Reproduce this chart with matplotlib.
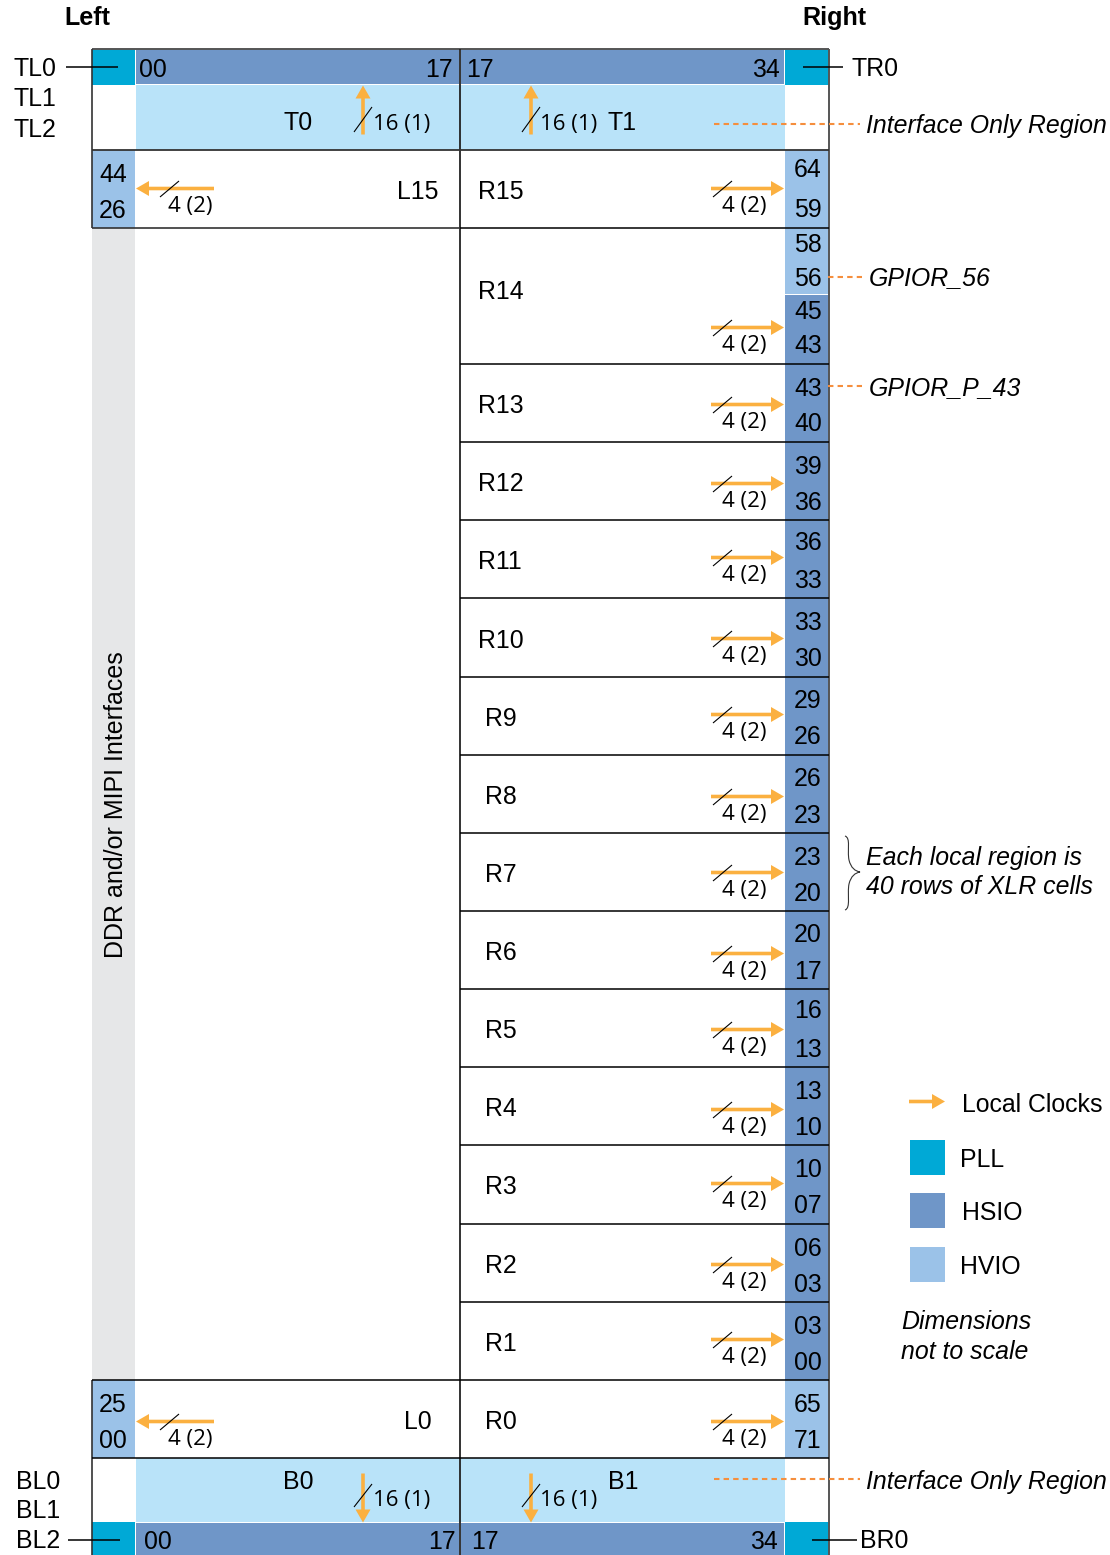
import matplotlib
matplotlib.use("Agg")
import matplotlib.pyplot as plt
from matplotlib.patches import Rectangle, PathPatch
from matplotlib.path import Path

# right side regions, top to bottom
right_regions = ["R15", "R14", "R13", "R12", "R11", "R10", "R9", "R8",
                 "R7", "R6", "R5", "R4", "R3", "R2", "R1", "R0"]
right_row_edges = [150, 228, 364, 442, 520, 598, 677, 755, 833, 911, 989,
                   1067, 1145, 1224, 1302, 1380, 1458]
right_arrow_y = [188, 327, 404, 483, 557, 638, 714, 796, 872, 953, 1029,
                 1109, 1183, 1264, 1339, 1421]
right_label_y = [190, 290, 404, 482, 560, 639, 717, 795, 873, 951, 1029,
                 1107, 1185, 1264, 1342, 1420]
bank_numbers = ["64", "59", "58", "56", "45", "43", "43", "40", "39", "36", "36", "33",
                "33", "30", "29", "26", "26", "23", "23", "20", "20", "17", "16", "13",
                "13", "10", "10", "07", "06", "03", "03", "00", "65", "71"]
bank_number_y = [168, 208, 243, 277, 310, 344, 387, 422, 465, 501, 541, 579,
                 621, 657, 699, 735, 777, 814, 856, 892, 933, 970, 1009, 1048,
                 1090, 1126, 1168, 1204, 1247, 1283, 1325, 1361, 1403, 1439]
legend_names = ["PLL", "HSIO", "HVIO"]

PLL = "#00a9d6"
HSIO = "#6f96c8"
HVIO = "#9bc2e8"
LIGHT = "#b9e3f9"
GREY = "#e6e7e8"
ORANGE = "#fbb040"
DASH = "#f58e3d"
SANS = "Liberation Sans"
OPEN = "Open Sans"

fig = plt.figure(figsize=(11.1, 15.55), dpi=100)
ax = fig.add_axes([0, 0, 1, 1])
ax.set_xlim(0, 1110)
ax.set_ylim(1555, 0)
ax.axis("off")


def box(x0, y0, x1, y1, color, edge="none", z=1):
    ax.add_patch(Rectangle((x0, y0), x1 - x0, y1 - y0, facecolor=color,
                           edgecolor=edge, linewidth=1, zorder=z))


def line(x0, y0, x1, y1, color="black", lw=1.1, z=3, ls="-"):
    ax.plot([x0, x1], [y0, y1], color=color, lw=lw, zorder=z, ls=ls,
            solid_capstyle="butt")


def label(x, y, s, size=17.9, ha="left", **kw):
    # y is the middle of the capitals
    ax.text(x, y + size * 0.5 + 0.4, s, fontsize=size, family=kw.pop("family", SANS),
            ha=ha, va="baseline", zorder=7, **kw)


def arrow(x0, y0, x1, y1):
    ax.arrow(x0, y0 + 0.5, x1 - x0, y1 - y0, width=3.6, head_width=15, head_length=13,
             length_includes_head=True, color=ORANGE, lw=0, zorder=4)


def slash(x0, y0, x1, y1):
    line(x0, y0, x1, y1, lw=0.8, z=6)


def dashed(x0, y, x1):
    ax.plot([x0, x1], [y, y], color=DASH, lw=1.5, dashes=(2.6, 2), zorder=4)


# fills
box(136, 85, 785, 150, LIGHT)
box(136, 1458, 785, 1522, LIGHT)
box(92, 49, 135, 85, PLL)
box(785, 49, 829, 85, PLL)
box(92, 1522, 135, 1555, PLL)
box(785, 1522, 829, 1555, PLL)
box(136, 49, 459, 84, HSIO)
box(461, 49, 784, 84, HSIO)
box(136, 1523, 459, 1555, HSIO)
box(461, 1523, 784, 1555, HSIO)
box(92, 150, 135, 228, HVIO)
box(92, 228, 135, 1380, GREY)
box(92, 1380, 135, 1458, HVIO)
box(785, 150, 829, 294, HVIO)
box(785, 295, 829, 1380, HSIO)
box(785, 1380, 829, 1458, HVIO)

# outline
line(92, 49, 829, 49, "#555555", 1.4)
line(92, 49, 92, 228, "#333333", 1.2)
line(92, 1380, 92, 1555, "#333333", 1.2)
line(829, 49, 829, 1555, "#555555", 1.4)
line(460, 49, 460, 1555, "#222222", 1.3)
line(92, 150, 829, 150, "#333333", 1.3)
line(92, 228, 460, 228, "#333333", 1.2)
line(92, 1380, 460, 1380)
line(92, 1458, 829, 1458)
for edge in right_row_edges[1:-1]:
    line(460, edge, 829, edge)

# right side rows
for name, ly, ay in zip(right_regions, right_label_y, right_arrow_y):
    x = 478.5 if len(name) == 3 else 485
    label(x, ly, name)
    arrow(711, ay, 784, ay)
    slash(713, ay + 9, 732, ay - 7)
    label(722.5, ay + 16, "4 (2)", size=16, family=OPEN)
for s, y in zip(bank_numbers, bank_number_y):
    label(808, y, s, ha="center")

# left side
label(113, 173, "44", ha="center")
label(113, 209, "26", ha="center")
label(113, 1403, "25", ha="center")
label(113, 1439, "00", ha="center")
label(397, 190, "L15")
label(404, 1420, "L0")
for ay in [188, 1421]:
    arrow(214, ay, 136, ay)
    slash(160, ay + 9, 179, ay - 7)
    label(168, ay + 16, "4 (2)", size=16, family=OPEN)
ax.text(116, 805, "DDR and/or MIPI Interfaces", rotation=90, fontsize=18,
        family=SANS, ha="center", va="center", zorder=7)

# top and bottom interface rows
for x, name, tx, numx in [(363, "T0", 283, 373), (531, "T1", 608, 540)]:
    arrow(x, 134, x, 85)
    slash(x - 9, 132, x + 9, 107)
    label(numx, 122, "16 (1)", size=16, family=OPEN)
    label(tx, 121, name)
for x, name, tx, numx in [(363, "B0", 283, 373), (531, "B1", 608, 540)]:
    arrow(x, 1473, x, 1522)
    slash(x - 9, 1507, x + 9, 1484)
    label(numx, 1498, "16 (1)", size=16, family=OPEN)
    label(tx, 1480, name)
for x, s in [(139, "00"), (425, "17"), (466, "17"), (752, "34")]:
    label(x, 68, s)
for x, s in [(144, "00"), (428, "17"), (471, "17"), (750, "34")]:
    label(x, 1540, s)

# corner labels
label(87, 16, "Left", ha="center", weight="bold", size=18.1)
label(834, 16, "Right", ha="center", weight="bold", size=18.1)
for s, y in [("TL0", 67), ("TL1", 97), ("TL2", 128)]:
    label(13.5, y, s)
for s, y in [("BL0", 1480), ("BL1", 1509), ("BL2", 1539)]:
    label(16.5, y, s)
label(852, 67, "TR0")
label(860, 1539, "BR0")
line(66, 67, 118, 67)
line(803, 67, 843, 67)
line(68, 1540, 120, 1540)
line(812, 1540, 857, 1540)

# callouts
dashed(714, 124, 860)
dashed(714, 1479, 860)
dashed(828, 277, 862)
dashed(828, 386, 862)
label(866.5, 124, "Interface Only Region", style="italic")
label(866.5, 1480, "Interface Only Region", style="italic")
label(869, 276, "GPIOR_56", style="italic")
label(869, 386, "GPIOR_P_43", style="italic")
label(866.5, 856, "Each local region is", style="italic")
label(866.5, 885, "40 rows of XLR cells", style="italic")

# brace next to R7
brace = Path([(845, 836), (851, 838), (847, 850), (849, 860), (851, 868), (855, 871), (860, 872),
              (855, 873), (851, 876), (849, 884), (847, 894), (851, 908), (845, 910)],
             [Path.MOVETO, Path.CURVE4, Path.CURVE4, Path.CURVE4, Path.CURVE4, Path.CURVE4, Path.CURVE4,
              Path.CURVE4, Path.CURVE4, Path.CURVE4, Path.CURVE4, Path.CURVE4, Path.CURVE4])
ax.add_patch(PathPatch(brace, fill=False, edgecolor="#333333", lw=0.8, zorder=3))

# legend
arrow(909, 1101, 945, 1101)
label(962, 1103, "Local Clocks")
for name, color, y0, tx in zip(legend_names, [PLL, HSIO, HVIO], [1140, 1193, 1247], [960, 962, 960]):
    box(910, y0, 945, y0 + 35, color)
    label(tx, y0 + 18, name)
label(901, 1320, "Dimensions", style="italic")
label(901, 1350, "not to scale", style="italic")

fig.savefig("out.png", dpi=100)
